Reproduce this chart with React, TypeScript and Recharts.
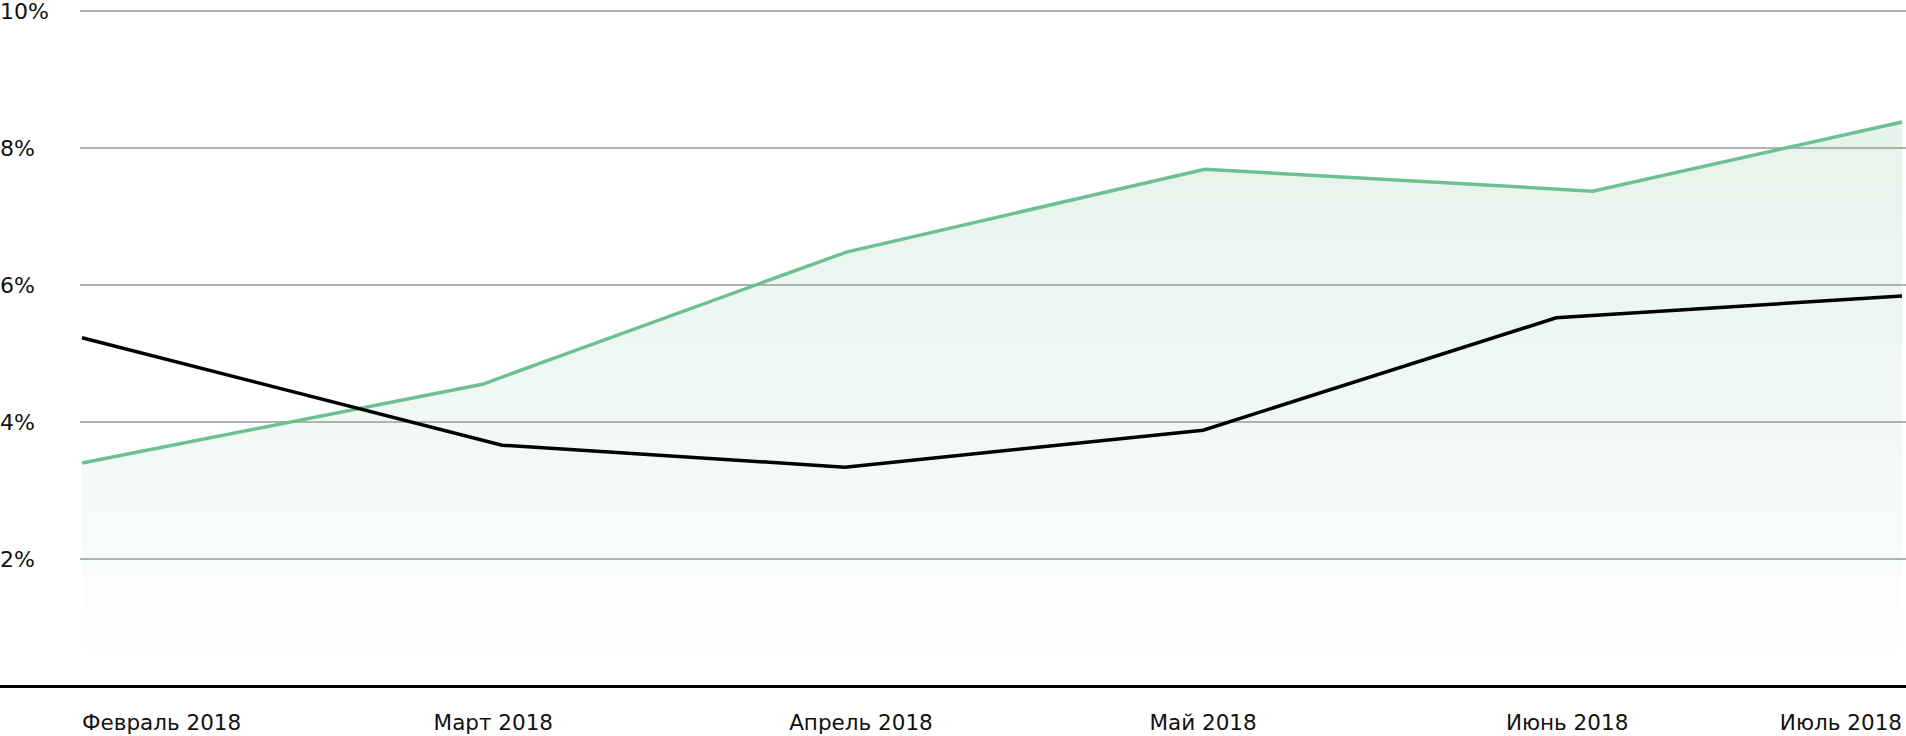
import { ComposedChart, Area, Line, XAxis, YAxis, CartesianGrid } from "recharts";

// month labels and where they sit on the (fractional month) x scale
const monthLabels = ["Февраль 2018", "Март 2018", "Апрель 2018", "Май 2018", "Июнь 2018", "Июль 2018"];
const monthTicks = [0, 1.13, 2.14, 3.08, 4.08, 5];

// x positions of each series' points (the two series are not sampled at the same spots)
const greenX = [0, 1.1, 2.1, 3.085, 4.15, 5];
const greenValues = [3.4, 4.55, 6.48, 7.69, 7.37, 8.38];

const blackX = [0, 1.154, 2.096, 3.08, 4.05, 5];
const blackValues = [5.23, 3.66, 3.34, 3.88, 5.52, 5.84];

const yTicks = [2, 4, 6, 8, 10];
const Y_MIN = 0.13;
const Y_MAX = 10;

const greenData = greenX.map((x, i) => ({ x, v: greenValues[i] }));
const blackData = blackX.map((x, i) => ({ x, v: blackValues[i] }));

const WIDTH = 1906;
const HEIGHT = 736;
const FONT = "'DejaVu Sans', sans-serif";

function XTick({ x, payload, index }: any) {
  const last = monthTicks.length - 1;
  const anchor = index === 0 ? "start" : index === last ? "end" : "middle";
  return (
    <text x={x} y={HEIGHT - 6} textAnchor={anchor} fontSize={21.5} fontFamily={FONT} fill="#111">
      {monthLabels[monthTicks.indexOf(payload.value)]}
    </text>
  );
}

function YTick({ y, payload }: any) {
  return (
    <text x={0} y={y} dy={8} textAnchor="start" fontSize={22} fontFamily={FONT} fill="#111">
      {payload.value}%
    </text>
  );
}

export default function App() {
  return (
    <div style={{ position: "relative", width: WIDTH, height: HEIGHT }}>
      <style>{`body{margin:0;}`}</style>
      <ComposedChart width={WIDTH} height={HEIGHT} margin={{ top: 11, right: 0, bottom: 0, left: 0 }}>
        <defs>
          <linearGradient id="greenFill" x1="0" y1="0" x2="0" y2="1">
            <stop offset="0%" stopColor="#6cc092" stopOpacity={0.3} />
            <stop offset="55%" stopColor="#6cc092" stopOpacity={0.15} />
            <stop offset="100%" stopColor="#6cc092" stopOpacity={0} />
          </linearGradient>
        </defs>
        <CartesianGrid vertical={false} stroke="#b3b3b3" strokeWidth={2} />
        <XAxis
          type="number"
          dataKey="x"
          domain={[0, 5]}
          ticks={monthTicks}
          tick={<XTick />}
          tickLine={false}
          axisLine={false}
          height={49}
          padding={{ left: 2, right: 4 }}
          interval={0}
        />
        <YAxis
          type="number"
          domain={[Y_MIN, Y_MAX]}
          ticks={yTicks}
          tick={<YTick />}
          tickLine={false}
          axisLine={false}
          width={80}
          allowDataOverflow
        />
        <Area
          data={greenData}
          dataKey="v"
          type="linear"
          stroke="#6cc092"
          strokeWidth={3.5}
          fill="url(#greenFill)"
          dot={false}
          activeDot={false}
          isAnimationActive={false}
        />
        <Line
          data={blackData}
          dataKey="v"
          type="linear"
          stroke="#000"
          strokeWidth={3.5}
          dot={false}
          activeDot={false}
          isAnimationActive={false}
        />
      </ComposedChart>
      <div style={{ position: "absolute", left: 0, top: 685, width: WIDTH, height: 3, background: "#000" }} />
    </div>
  );
}
